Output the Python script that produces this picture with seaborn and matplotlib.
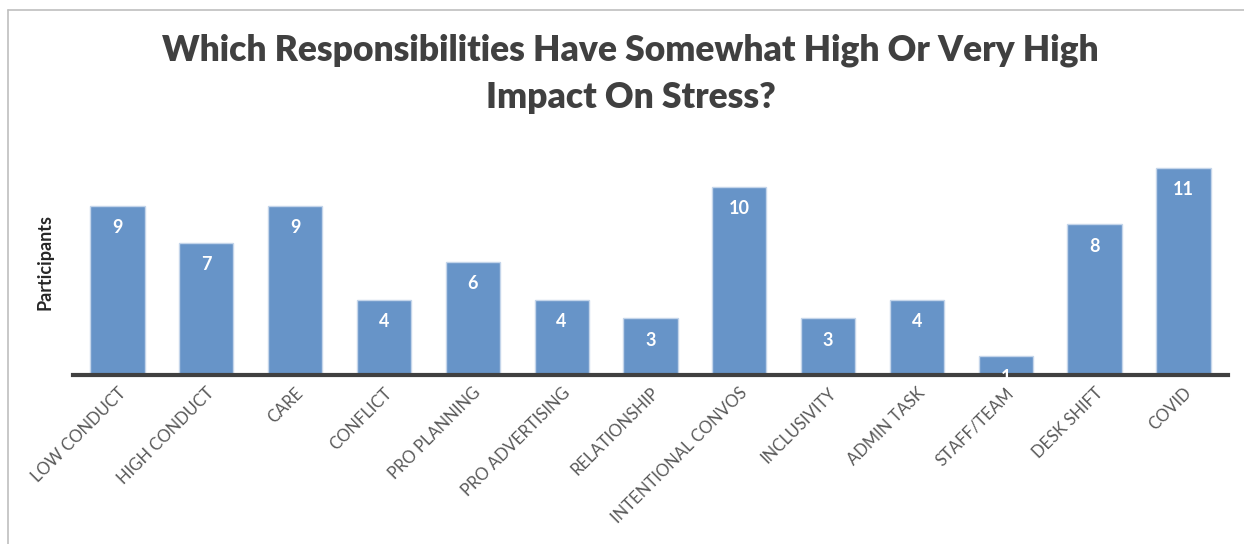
import matplotlib
matplotlib.use("Agg")
import matplotlib.pyplot as plt
import seaborn as sns
import pandas as pd
from matplotlib.lines import Line2D

# Data
responsibilities = [
    "LOW CONDUCT", "HIGH CONDUCT", "CARE", "CONFLICT", "PRO PLANNING",
    "PRO ADVERTISING", "RELATIONSHIP", "INTENTIONAL CONVOS", "INCLUSIVITY",
    "ADMIN TASK", "STAFF/TEAM", "DESK SHIFT", "COVID",
]
participants = [9, 7, 9, 4, 6, 4, 3, 10, 3, 4, 1, 8, 11]

df = pd.DataFrame({"responsibility": responsibilities, "participants": participants})

sns.set_theme(style="white")
plt.rcParams["font.family"] = ["Lato", "DejaVu Sans"]

fig = plt.figure(figsize=(12.44, 5.44), dpi=100)
ax = fig.add_axes([0.0587, 0.3107, 0.9283, 0.4153])

sns.barplot(
    data=df, x="responsibility", y="participants", ax=ax,
    color="#6794C8", saturation=1, width=0.61, edgecolor="#C4D5EA", linewidth=1.0,
)

ax.set_ylim(0, 12)
ax.set_xlim(-0.5, len(responsibilities) - 0.5)
ax.set_yticks([])
ax.set_xlabel("")
ax.set_ylabel("Participants", fontsize=13, fontweight="bold", color="#262626", labelpad=14)

for side in ["top", "right", "left"]:
    ax.spines[side].set_visible(False)
ax.spines["bottom"].set_color("#404040")
ax.spines["bottom"].set_linewidth(3)

ax.tick_params(axis="x", length=0, pad=7)
plt.setp(ax.get_xticklabels(), rotation=45, ha="right", rotation_mode="anchor",
         fontsize=12, color="#595959")

# value labels inside bars
for i, v in enumerate(participants):
    ax.text(i, v - 0.7, str(v), ha="center", va="top", color="white",
            fontsize=13, fontweight="bold")

fig.text(0.507, 0.908, "Which Responsibilities Have Somewhat High Or Very High",
         ha="center", va="center", fontsize=25.5, fontweight="heavy", color="#404040")
fig.text(0.507, 0.821, "Impact On Stress?",
         ha="center", va="center", fontsize=25.5, fontweight="heavy", color="#404040")

# chart frame (top and left edges visible in the crop)
fig.add_artist(Line2D([8 / 1244, 8 / 1244], [0, 1 - 10 / 544], color="#BFBFBF", lw=1.2))
fig.add_artist(Line2D([8 / 1244, 1], [1 - 10 / 544, 1 - 10 / 544], color="#BFBFBF", lw=1.2))

plt.savefig("out.png", dpi=100)
plt.close()
